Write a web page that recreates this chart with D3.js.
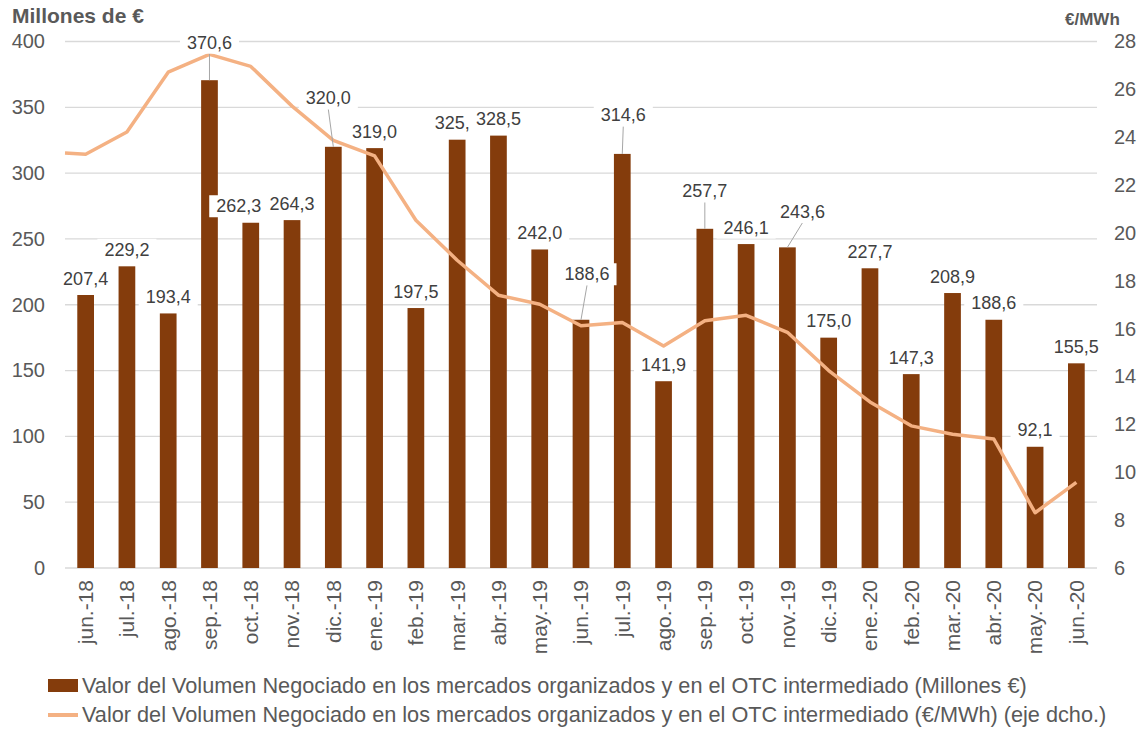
<!DOCTYPE html>
<html>
<head>
<meta charset="utf-8">
<script src="https://cdn.jsdelivr.net/npm/d3@7"></script>
<style>
  body { margin: 0; background: #fff; }
  svg { font-family: "Liberation Sans", Arial, sans-serif; }
</style>
</head>
<body>
<svg width="1144" height="729"></svg>
<script>
var categories = ["jun.-18","jul.-18","ago.-18","sep.-18","oct.-18","nov.-18","dic.-18","ene.-19",
    "feb.-19","mar.-19","abr.-19","may.-19","jun.-19","jul.-19","ago.-19","sep.-19","oct.-19",
    "nov.-19","dic.-19","ene.-20","feb.-20","mar.-20","abr.-20","may.-20","jun.-20"];

// Millones de euros (eje izq.)
var volumen = [207.4, 229.2, 193.4, 370.6, 262.3, 264.3, 320.0, 319.0, 197.5, 325.4, 328.5, 242.0,
    188.6, 314.6, 141.9, 257.7, 246.1, 243.6, 175.0, 227.7, 147.3, 208.9, 188.6, 92.1, 155.5];

// €/MWh (eje dcho.)
var precio = [23.29, 24.22, 26.72, 27.46, 26.96, 25.3, 23.87, 23.22, 20.53, 18.86, 17.40, 17.02,
    16.12, 16.26, 15.28, 16.33, 16.56, 15.85, 14.25, 12.94, 11.94, 11.59, 11.39, 8.31, 9.58];
var precioInicio = 23.34;   // the line starts at the left edge of the plot

var leftTicks = [0, 50, 100, 150, 200, 250, 300, 350, 400];
var rightTicks = [6, 8, 10, 12, 14, 16, 18, 20, 22, 24, 26, 28];

var legendLabels = [
    "Valor del Volumen Negociado en los mercados organizados y en el OTC intermediado (Millones €)",
    "Valor del Volumen Negociado en los mercados organizados y en el OTC intermediado (€/MWh) (eje dcho.)"
];

// labels moved away from the bar top (index -> [dx, dy, leader])
var labelNudge = {3: [0, -21, true], 4: [-12, 0, false], 6: [-5, -32, true], 12: [6, -29, true],
    13: [1, -22, true], 15: [0, -21, true], 17: [15, -19, true]};

var barColor = "#843c0c", lineColor = "#f4b183", txt = "#595959", lbl = "#404040";

var svg = d3.select("svg");
var pl = 65, pr = 1097, pt = 41.5, pb = 568;

var x = d3.scaleBand().domain(categories).range([pl, pr])
    .paddingInner(0.595).paddingOuter(0.2975);
var cx = function(d){ return x(d) + x.bandwidth()/2; };
var y = d3.scaleLinear().domain([0, 400]).range([pb, pt]);
var y2 = d3.scaleLinear().domain([6, 28]).range([pb, pt]);

// gridlines
svg.append("g").selectAll("line").data(leftTicks).enter().append("line")
    .attr("x1", pl).attr("x2", pr)
    .attr("y1", d => y(d)).attr("y2", d => y(d))
    .attr("stroke", "#d9d9d9").attr("stroke-width", 1.3);

// left axis
var ya = svg.append("g").attr("transform", "translate(" + (pl - 20) + ",0)")
    .call(d3.axisLeft(y).tickValues(leftTicks).tickSize(0).tickPadding(0));
ya.select(".domain").remove();
ya.selectAll("text").attr("font-size", 20).attr("fill", txt).attr("font-family", "Liberation Sans, Arial");

// right axis
var yb = svg.append("g").attr("transform", "translate(" + (pr + 17) + ",0)")
    .call(d3.axisRight(y2).tickValues(rightTicks).tickSize(0).tickPadding(0));
yb.select(".domain").remove();
yb.selectAll("text").attr("font-size", 20).attr("fill", txt).attr("font-family", "Liberation Sans, Arial");

// x axis
var xa = svg.append("g").attr("transform", "translate(0," + (pb + 12) + ")")
    .call(d3.axisBottom(x).tickSize(0).tickPadding(0));
xa.select(".domain").remove();
xa.selectAll("text")
    .attr("font-size", 21).attr("fill", txt).attr("font-family", "Liberation Sans, Arial")
    .attr("transform", "rotate(-90)")
    .attr("text-anchor", "end").attr("dy", "0.35em").attr("y", 0).attr("x", 0);

// axis titles
svg.append("text").attr("x", 12).attr("y", 23).text("Millones de €")
    .attr("font-size", 21).attr("font-weight", "bold").attr("fill", txt);
svg.append("text").attr("x", 1065).attr("y", 25).text("€/MWh")
    .attr("font-size", 17).attr("font-weight", "bold").attr("fill", txt);

// bars
svg.append("g").selectAll("rect").data(volumen).enter().append("rect")
    .attr("x", (d, i) => x(categories[i]))
    .attr("width", x.bandwidth())
    .attr("y", d => y(d))
    .attr("height", d => y(0) - y(d))
    .attr("fill", barColor);

// line
var pts = [[pl, y2(precioInicio)]].concat(precio.map((d, i) => [cx(categories[i]), y2(d)]));
svg.append("path").datum(pts)
    .attr("d", d3.line())
    .attr("fill", "none").attr("stroke", lineColor)
    .attr("stroke-width", 3.5).attr("stroke-linejoin", "round");

// data labels
var fmt = d => d.toFixed(1).replace(".", ",");
var lab = svg.append("g");
volumen.forEach(function(v, i){
    var n = labelNudge[i] || [0, 0, false];
    var bx = cx(categories[i]), by = y(v);
    var tx = bx + n[0], ty = by - 10.5 + n[1];
    if(n[2]){
        lab.append("line").attr("x1", tx).attr("y1", ty + 5).attr("x2", bx).attr("y2", by)
            .attr("stroke", "#a6a6a6").attr("stroke-width", 1);
    }
    var g = lab.append("g");
    var bg = g.append("rect").attr("fill", "#fff");
    var t = g.append("text").attr("x", tx).attr("y", ty)
        .attr("text-anchor", "middle").attr("font-size", 18).attr("fill", lbl)
        .text(fmt(v));
    var bb = t.node().getBBox();
    bg.attr("x", bb.x - 7).attr("y", ty - 17).attr("width", bb.width + 14).attr("height", 22);
});

// legend
var lg = svg.append("g");
lg.append("rect").attr("x", 48).attr("y", 679).attr("width", 30).attr("height", 13).attr("fill", barColor);
lg.append("line").attr("x1", 48).attr("x2", 78).attr("y1", 715).attr("y2", 715)
    .attr("stroke", lineColor).attr("stroke-width", 4);
lg.selectAll("text").data(legendLabels).enter().append("text")
    .attr("x", 82).attr("y", (d, i) => 693 + i * 29)
    .attr("font-size", 21.7).attr("fill", txt)
    .text(d => d);
</script>
</body>
</html>
